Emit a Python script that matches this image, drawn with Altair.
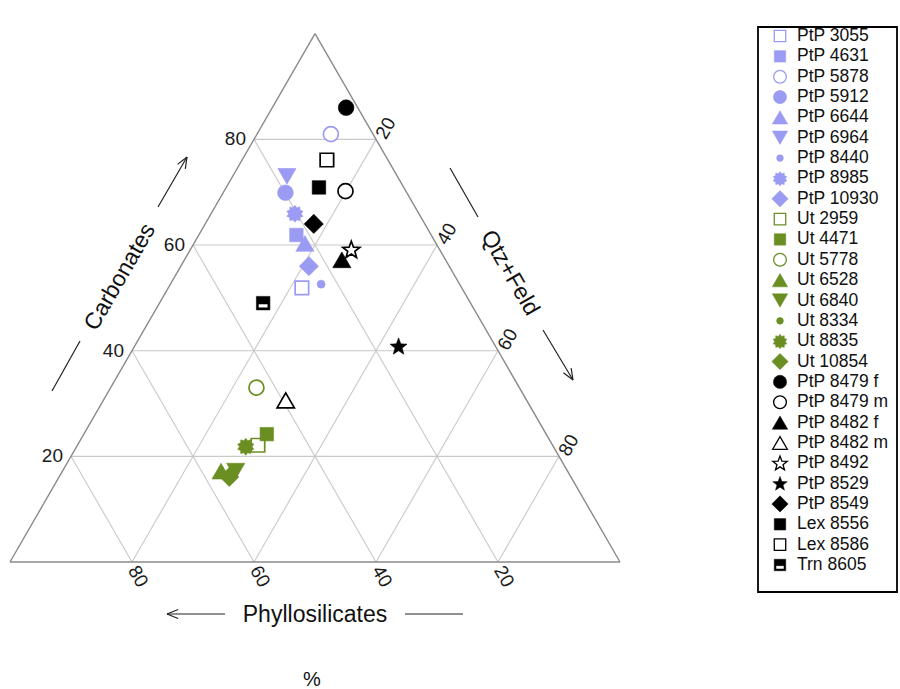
import math
import altair as alt
import pandas as pd

# ---- data: sample compositions (%) ----
samples = [
    "PtP 3055", "PtP 4631", "PtP 5878", "PtP 5912", "PtP 6644", "PtP 6964",
    "PtP 8440", "PtP 8985", "PtP 10930",
    "Ut 2959", "Ut 4471", "Ut 5778", "Ut 6528", "Ut 6840", "Ut 8334",
    "Ut 8835", "Ut 10854",
    "PtP 8479 f", "PtP 8479 m", "PtP 8482 f", "PtP 8482 m", "PtP 8492",
    "PtP 8529", "PtP 8549", "Lex 8556", "Lex 8586", "Trn 8605",
]
carbonates = [
    51.9, 61.9, 81.0, 69.9, 60.3, 73.0, 52.6, 66.0, 56.0,
    22.1, 24.2, 33.0, 17.2, 17.2, 16.6, 21.9, 16.1,
    86.0, 70.2, 57.2, 30.6, 59.1, 40.8, 64.0, 70.9, 76.1, 49.0,
]
qtz_feld = [
    21.9, 16.0, 12.1, 10.2, 18.2, 8.9, 24.7, 13.7, 21.0,
    29.6, 30.0, 23.9, 26.0, 28.4, 27.9, 27.7, 27.9,
    12.1, 19.9, 25.8, 29.9, 26.4, 43.3, 17.8, 15.2, 13.9, 17.0,
]
phyllosilicates = [
    26.2, 22.1, 6.9, 19.9, 21.5, 18.1, 22.7, 20.3, 23.0,
    48.3, 45.8, 43.1, 56.8, 54.4, 55.5, 50.4, 56.0,
    1.9, 9.9, 17.0, 39.5, 14.5, 15.9, 18.2, 13.9, 10.0, 34.0,
]
groups = ["PtP"] * 9 + ["Ut"] * 8 + ["other"] * 10
symbols = [
    "open square", "square", "open circle", "circle", "triangle",
    "down triangle", "dot", "burst", "diamond",
    "open square", "square", "open circle", "triangle", "down triangle",
    "dot", "burst", "diamond",
    "circle", "open circle", "triangle", "open triangle", "open star",
    "star", "diamond", "square", "open square", "half square",
]
grid_ticks = [20, 40, 60, 80]

# ---- styling ----
FONT = "Liberation Sans"
palette = {"PtP": "#9b9bf3", "Ut": "#6b8e23", "other": "#000000"}


def star_path(points, inner):
    pts = []
    for i in range(points * 2):
        a = math.radians(-90 + 180.0 / points * i)
        r = 1.0 if i % 2 == 0 else inner
        pts.append(f"{r * math.cos(a):.3f},{r * math.sin(a) + 0.05:.3f}")
    return "M" + "L".join(pts) + "Z"


STAR = star_path(5, 0.42)
BURST = star_path(10, 0.74)
HALF_SQUARE = "M-1,-1L1,-1L1,1L-1,1Z M-0.7,0.12L-0.7,0.7L0.7,0.7L0.7,0.12Z"

marker_style = {
    "square": ("square", True, 182),
    "open square": ("square", False, 182),
    "circle": ("circle", True, 245),
    "open circle": ("circle", False, 225),
    "triangle": ("triangle-up", True, 330),
    "open triangle": ("triangle-up", False, 300),
    "down triangle": ("triangle-down", True, 330),
    "dot": ("circle", True, 64),
    "burst": (BURST, True, 290),
    "diamond": ("diamond", True, 370),
    "star": (STAR, True, 320),
    "open star": (STAR, False, 320),
    "half square": (HALF_SQUARE, True, 182),
}
LEGEND_SCALE = 0.72   # legend keys are drawn a little smaller than plot markers

# ---- triangle geometry on the page ----
LEFT, BASE, BOTTOM = 10, 610, 562
HEIGHT = BASE * math.sqrt(3) / 2
XS = alt.Scale(domain=[0, 100], range=[LEFT, LEFT + BASE], nice=False, zero=False)
YS = alt.Scale(domain=[0, 100], range=[BOTTOM, BOTTOM - HEIGHT], nice=False, zero=False)
PX = alt.Scale(domain=[0, 900], range=[0, 900], nice=False, zero=False)
PY = alt.Scale(domain=[0, 689], range=[0, 689], nice=False, zero=False)

# ---- point table ----
rows = []
for s, c, q, p, g, k in zip(samples, carbonates, qtz_feld, phyllosilicates, groups, symbols):
    shape, filled, size = marker_style[k]
    col = palette[g]
    rows.append(dict(
        sample=s, carb=c, qtz=q, phyl=p, shape=shape,
        fill=col if filled else "white", stroke=col, size=size,
        lsize=size * LEGEND_SCALE,
        sw=0.6 if filled else 1.7,
        lsw=0.5 if filled else 1.3,
    ))
pts = pd.DataFrame(rows)

# ---- grid and frame segments (ternary endpoints) ----
grid_rows = []
for k in grid_ticks:
    grid_rows.append(dict(c1=k, q1=0, c2=k, q2=100 - k))          # carbonates = k
    grid_rows.append(dict(c1=0, q1=k, c2=100 - k, q2=k))          # qtz+feld = k
    grid_rows.append(dict(c1=0, q1=100 - k, c2=100 - k, q2=0))    # phyllosilicates = k
grid_df = pd.DataFrame(grid_rows)
frame_df = pd.DataFrame([
    dict(c1=0, q1=0, c2=0, q2=100),
    dict(c1=0, q1=0, c2=100, q2=0),
    dict(c1=0, q1=100, c2=100, q2=0),
])


def segments(df, color, width):
    return alt.Chart(df).mark_rule(color=color, strokeWidth=width).transform_calculate(
        xa="datum.q1 + datum.c1 / 2", xb="datum.q2 + datum.c2 / 2"
    ).encode(
        x=alt.X("xa:Q", scale=XS, axis=None),
        x2="xb:Q",
        y=alt.Y("c1:Q", scale=YS, axis=None),
        y2="c2:Q",
    )


grid = segments(grid_df, "#c9c9c9", 1.1)
frame = segments(frame_df, "#8a8a8a", 1.4)

tick_df = pd.DataFrame({"val": grid_ticks})
tick_style = dict(font=FONT, fontSize=19, color="#1a1a1a", baseline="middle")

left_ticks = alt.Chart(tick_df).mark_text(align="right", dx=-8, **tick_style).transform_calculate(
    tx="datum.val / 2", ty="datum.val"
).encode(x=alt.X("tx:Q", scale=XS, axis=None), y=alt.Y("ty:Q", scale=YS, axis=None), text="val:Q")

right_ticks = alt.Chart(tick_df).mark_text(align="left", angle=300, dx=4, dy=3, **tick_style).transform_calculate(
    tx="datum.val + (100 - datum.val) / 2", ty="100 - datum.val"
).encode(x=alt.X("tx:Q", scale=XS, axis=None), y=alt.Y("ty:Q", scale=YS, axis=None), text="val:Q")

bottom_ticks = alt.Chart(tick_df).mark_text(align="left", angle=60, dx=5, dy=2, **tick_style).transform_calculate(
    tx="100 - datum.val", ty="0"
).encode(x=alt.X("tx:Q", scale=XS, axis=None), y=alt.Y("ty:Q", scale=YS, axis=None), text="val:Q")

points = alt.Chart(pts).mark_point(opacity=1).transform_calculate(
    tx="datum.qtz + datum.carb / 2"
).encode(
    x=alt.X("tx:Q", scale=XS, axis=None),
    y=alt.Y("carb:Q", scale=YS, axis=None),
    shape=alt.Shape("shape:N", scale=None),
    fill=alt.Fill("fill:N", scale=None),
    stroke=alt.Stroke("stroke:N", scale=None),
    size=alt.Size("size:Q", scale=None),
    strokeWidth=alt.StrokeWidth("sw:Q", scale=None),
)

# ---- axis titles and arrows ----
titles_df = pd.DataFrame([
    dict(t="Carbonates", px=120, py=277, ang=300, fs=23),
    dict(t="Qtz+Feld", px=510, py=273, ang=60, fs=23),
    dict(t="Phyllosilicates", px=315, py=615, ang=0, fs=23),
    dict(t="%", px=312, py=680, ang=0, fs=20),
])
titles = alt.Chart(titles_df).mark_text(font=FONT, color="#111111", baseline="middle", align="center").encode(
    x=alt.X("px:Q", scale=PX, axis=None),
    y=alt.Y("py:Q", scale=PY, axis=None),
    text="t:N",
    angle=alt.Angle("ang:Q", scale=None),
    size=alt.Size("fs:Q", scale=None),
)


def arrow(x0, y0, x1, y1, head=True, wing=12, spread=22):
    segs = [dict(xa=x0, ya=y0, xb=x1, yb=y1)]
    if head:
        back = math.atan2(y0 - y1, x0 - x1)
        for s in (-spread, spread):
            a = back + math.radians(s)
            segs.append(dict(xa=x1, ya=y1, xb=x1 + wing * math.cos(a), yb=y1 + wing * math.sin(a)))
    return segs


arrow_rows = (
    arrow(52, 391, 80, 341, head=False) + arrow(158, 207, 187, 157)
    + arrow(450, 168, 478, 217, head=False) + arrow(543, 330, 573, 380)
    + arrow(225, 614, 167, 614) + arrow(405, 614, 463, 614, head=False)
)
arrows = alt.Chart(pd.DataFrame(arrow_rows)).mark_rule(color="#222222", strokeWidth=1.2).encode(
    x=alt.X("xa:Q", scale=PX, axis=None), x2="xb:Q",
    y=alt.Y("ya:Q", scale=PY, axis=None), y2="yb:Q",
)

# ---- legend ----
LEG_ROWS = alt.Scale(type="point", domain=samples, range=[36, 565], padding=0)
legend_box = alt.Chart(pd.DataFrame({"k": [0]})).mark_rect(
    fill="transparent", stroke="#000000", strokeWidth=1.8
).encode(x=alt.value(758), x2=alt.value(897), y=alt.value(27), y2=alt.value(592))

legend_symbols = alt.Chart(pts).mark_point(opacity=1).encode(
    x=alt.value(780),
    y=alt.Y("sample:N", scale=LEG_ROWS, axis=None),
    shape=alt.Shape("shape:N", scale=None),
    fill=alt.Fill("fill:N", scale=None),
    stroke=alt.Stroke("stroke:N", scale=None),
    size=alt.Size("lsize:Q", scale=None),
    strokeWidth=alt.StrokeWidth("lsw:Q", scale=None),
)
legend_text = alt.Chart(pts).mark_text(
    font=FONT, fontSize=17.5, color="#111111", align="left", baseline="middle"
).encode(
    x=alt.value(797),
    y=alt.Y("sample:N", scale=LEG_ROWS, axis=None),
    text="sample:N",
)

chart = alt.layer(
    grid, frame, left_ticks, right_ticks, bottom_ticks, points,
    titles, arrows, legend_box, legend_symbols, legend_text,
).resolve_scale(x="independent", y="independent").properties(
    width=900, height=689, autosize="none", padding=0, background="white"
).configure_view(stroke=None)

chart.save("out.html", embed_options={"renderer": "svg", "actions": False})
